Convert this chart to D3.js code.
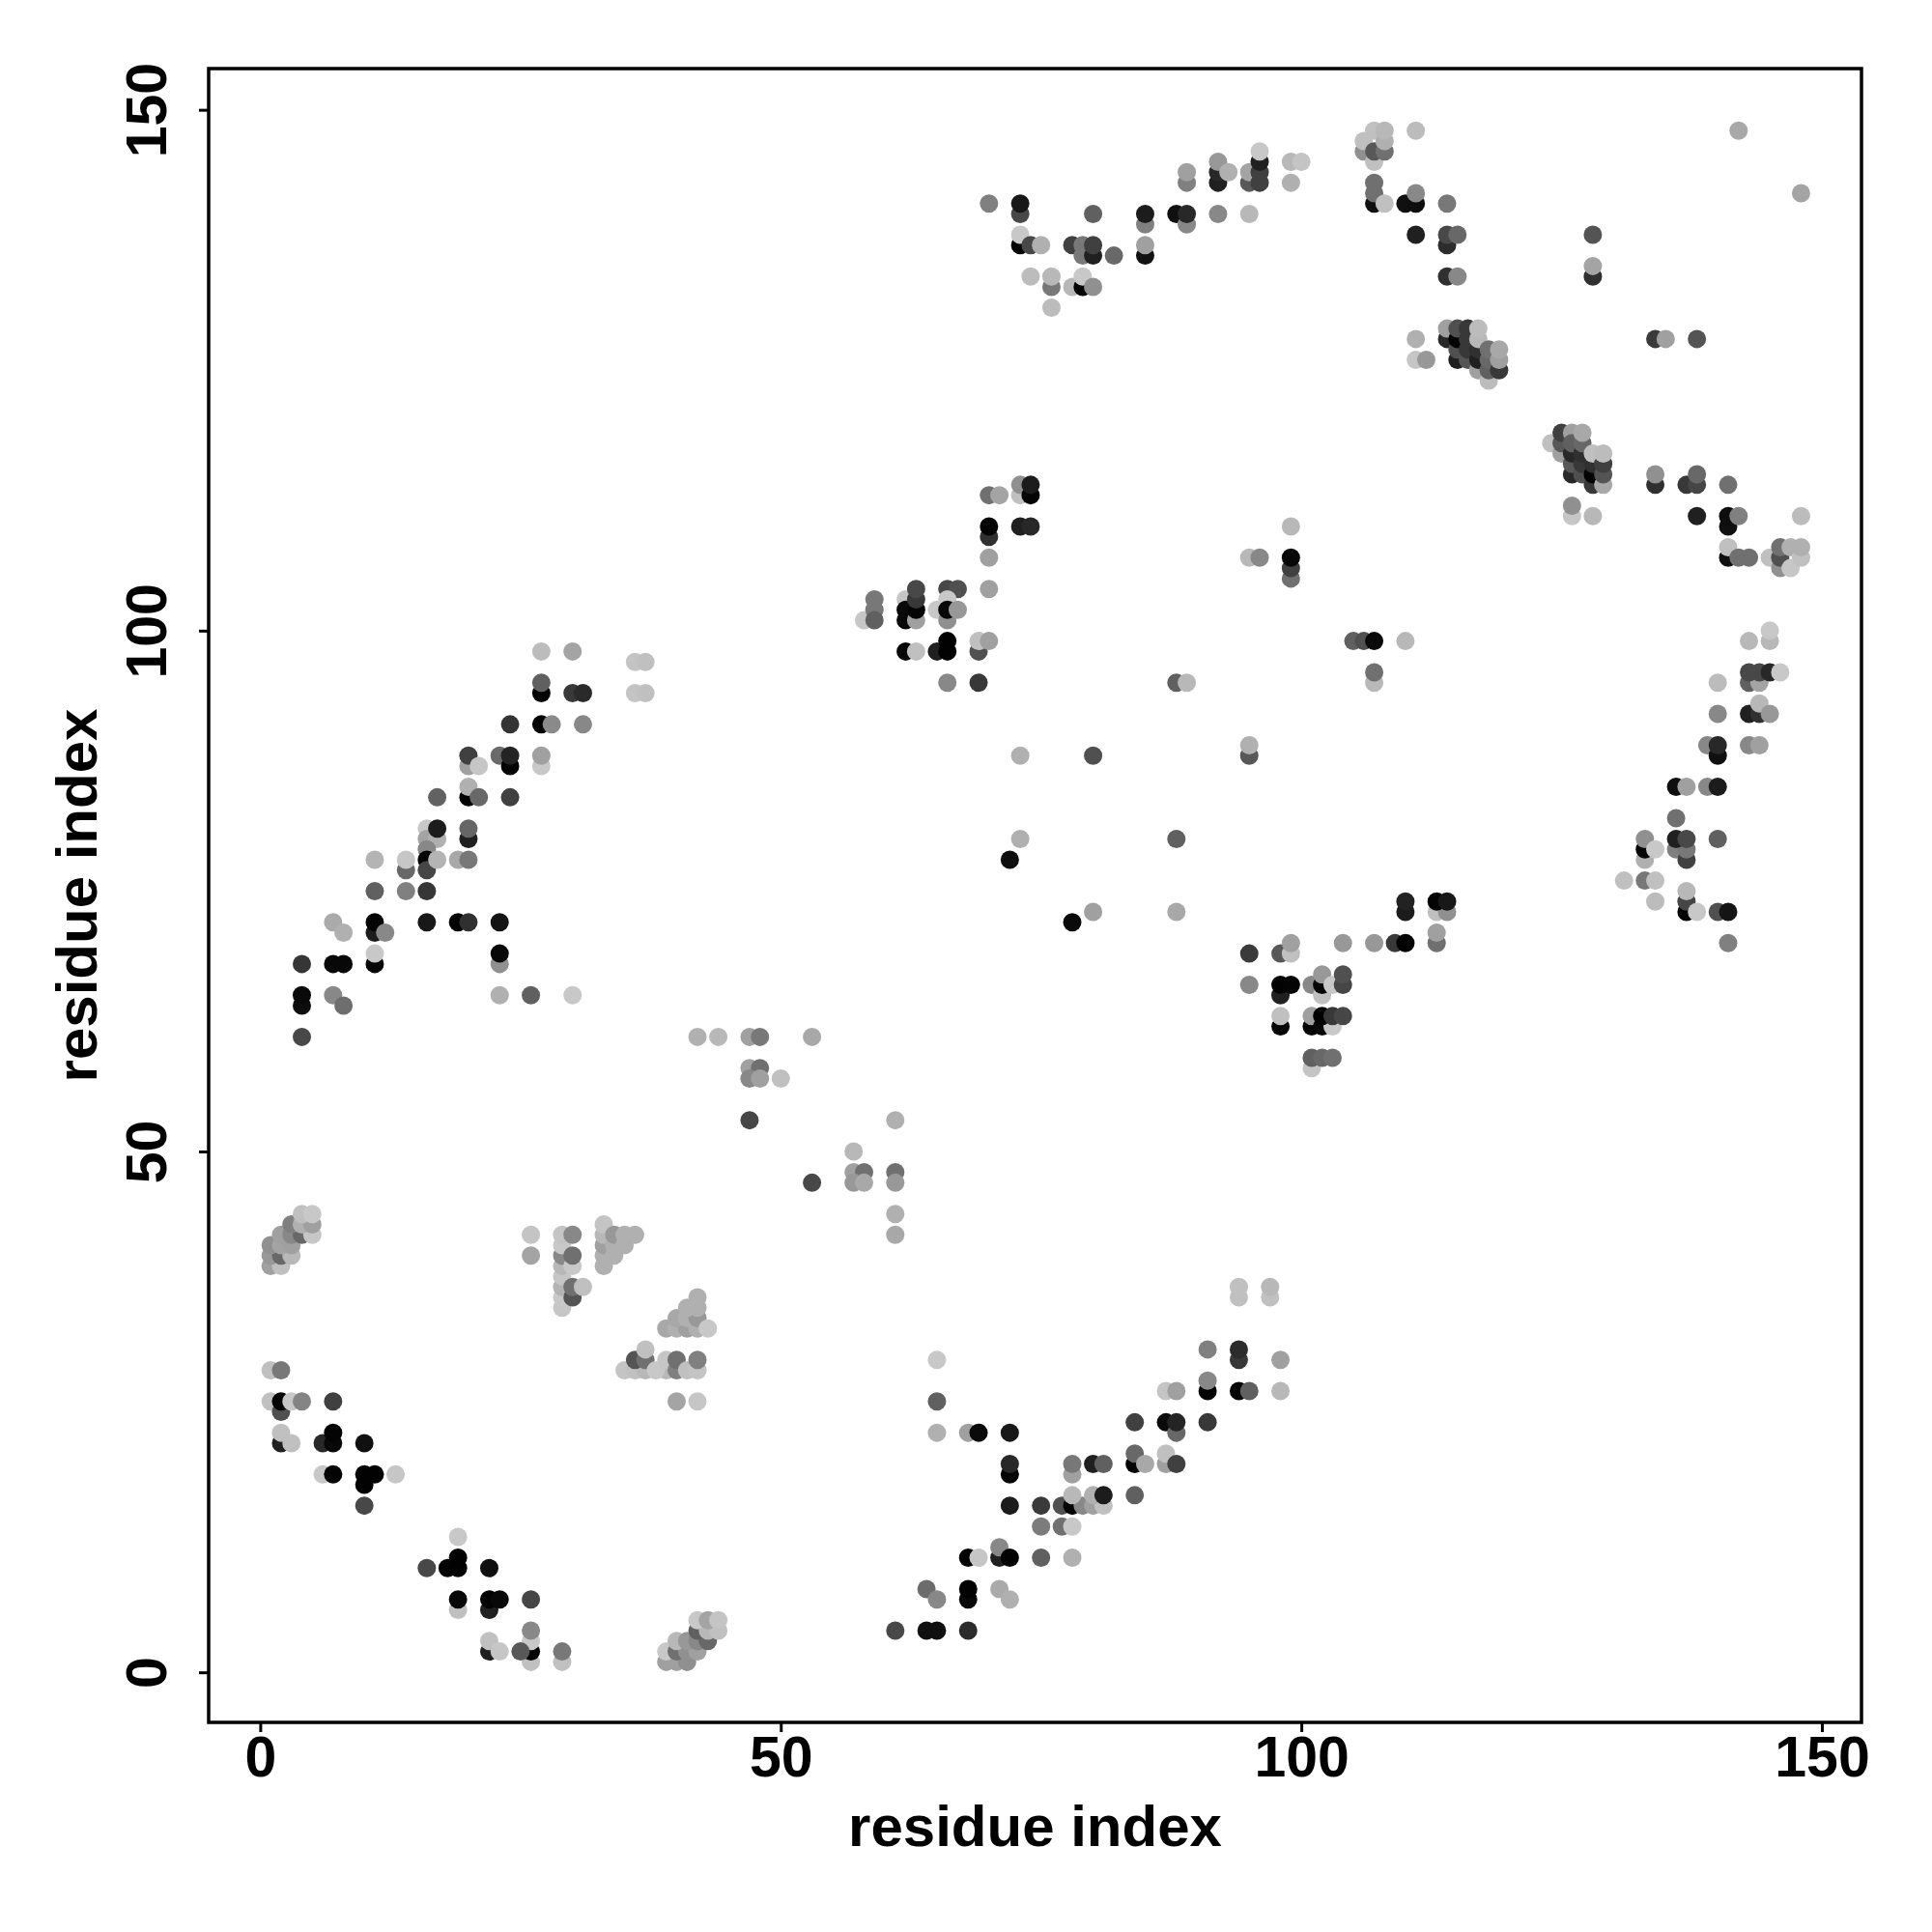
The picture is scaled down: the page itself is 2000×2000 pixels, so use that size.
<!DOCTYPE html>
<html><head><meta charset="utf-8">
<script src="https://cdn.jsdelivr.net/npm/d3@7"></script>
<style>html,body{margin:0;padding:0;background:#fff}svg{display:block}text{font-family:"Liberation Sans",Arial,sans-serif;font-weight:700;fill:#000}</style>
</head><body><svg id="c" width="2000" height="2000"></svg>
<script>
// each contact: [residue i, residue j, contact score 0-100]
const upperLeftArc=[[27,98,6],[30,98,18],[36,97,2],[37,97,4],[27,94,98],[27,95,52],[30,94,72],[31,94,79],[36,94,2],[37,94,4],
[24,91,74],[27,91,98],[28,91,31],[31,91,32],[20,87,20],[20,88,68],[21,87,1],[23,88,47],[24,87,98],[24,88,82],[27,87,0],[27,88,20],
[20,84,99],[20,85,12],[21,84,48],[17,84,51],[24,84,68],[16,81,0],[16,80,18],[17,80,12],[17,81,86],[20,80,84],[20,81,49],
[16,79,32],[16,78,98],[16,77,65],[17,78,10],[14,77,48],[14,78,1],[11,78,10],[19,78,16],[20,78,40],[11,75,52],[14,75,36],[16,75,73],
[16,72,88],[19,72,98],[20,72,76],[23,72,90],[11,71,86],[11,72,98],[12,71,32],[7,72,15],[8,71,12],[23,68,28],[23,69,96],[11,68,96],[11,69,0],
[4,68,73],[7,68,96],[8,68,96],[4,64,93],[4,65,95],[7,65,32],[8,64,45],[23,65,12],[26,65,52],[30,65,0],[4,61,64]];
const lowerLeft=[[1,29,4],[2,29,40],[1,26,4],[2,25,60],[2,26,98],[3,26,0],[4,26,34],[7,26,68],[2,22,84],[2,23,4],[3,22,4],[6,22,80],[7,22,96],[7,23,98],[10,22,92],
[6,19,0],[7,19,98],[10,19,99],[11,19,99],[10,18,99],[13,19,1],[10,16,64],[19,13,0],[19,11,99],[18,10,98],[19,10,99],[16,10,64],[22,10,92],
[19,6,4],[19,7,96],[22,6,84],[22,7,99],[23,7,96],[26,7,65],[26,1,4],[26,2,98],[26,3,0],[26,4,32],[25,2,56],[22,2,84],[22,3,4],[23,2,1],[29,1,4],[29,2,40]];
const clusterA=[[1,39,20],[2,39,4],[1,40,24],[2,40,48],[3,40,8],[1,41,28],[2,41,18],[3,41,20],[2,42,20],[3,42,32],[4,42,48],[5,42,1],[3,43,36],[4,43,12],[5,43,20],[4,44,4],[5,44,0]];
const clusterB=[[26,42,2],[26,40,18],[29,35,1],[29,36,0],[29,37,10],[29,38,1],[29,39,8],[29,40,32],[29,41,0],[29,42,2],[30,36,58],[30,37,44],[30,39,0],[30,40,44],[30,42,32],[31,37,4],
[33,39,12],[33,40,12],[33,41,20],[33,42,8],[33,43,2],[34,40,12],[34,41,12],[34,42,24],[35,41,12],[35,42,12],[36,42,12]];
const clusterC=[[35,29,2],[36,29,4],[37,29,8],[39,29,8],[36,30,58],[37,30,44],[37,31,4],[38,29,0],[39,30,1],[40,29,36],[40,30,44],[41,29,4],[42,29,2],[42,30,36],[40,26,18],[42,26,1],
[39,33,16],[40,33,12],[41,33,20],[42,33,12],[40,34,16],[41,34,12],[42,34,24],[41,35,12],[42,35,12],[42,36,12],[43,33,0]];
const clusterD=[[39,1,20],[40,1,20],[41,1,28],[39,2,0],[40,2,44],[41,2,28],[42,2,20],[40,3,8],[41,3,24],[42,3,32],[43,3,48],[42,4,52],[43,4,8],[44,4,4],[42,5,0],[43,5,18],[44,5,2]];
const middle=[[42,61,12],[44,61,8],[47,61,20],[48,61,40],[53,61,16],[47,58,20],[48,58,44],[47,57,32],[48,57,20],[50,57,4],[47,53,65],[53,47,64],
[57,50,8],[57,48,20],[58,48,44],[57,47,24],[58,47,16],[61,53,12],[61,48,44],[61,47,24],[61,44,12],[61,42,16]];
const lowerArc=[[65,30,0],[65,26,52],[65,23,12],[68,23,20],[69,23,95],[72,23,88],[72,19,98],[72,20,80],[72,16,86],[75,16,71],[75,14,38],[77,16,60],[77,14,44],[78,14,0],
[78,16,99],[79,16,32],[80,16,20],[81,16,4],[78,17,8],[80,17,12],[81,17,86],[78,19,20],[78,20,40],[80,20,84],[81,20,52],[84,17,52],[84,20,99],[84,21,48],[85,20,16],[84,24,68],
[87,24,95],[88,23,48],[88,24,82],[87,20,20],[87,21,4],[88,20,68],[87,27,2],[88,27,20],[91,27,99],[91,28,32],[91,24,72],[91,31,36],[94,30,72],[94,31,78],[94,27,98],[95,27,52],[98,30,20],[98,27,8],
[94,36,4],[94,37,4],[97,36,4],[97,37,8],[61,4,64],[64,4,92],[65,4,92],[68,4,78],[64,8,46],[65,7,32],[68,7,96],[68,8,99],[71,8,15],[72,7,12],
[68,11,98],[69,11,1],[71,11,84],[71,12,32],[72,11,99],[75,11,52],[78,11,12]];
const midRight=[[110,73,86],[110,74,83],[113,73,4],[114,73,28],[113,74,98],[114,74,88],[113,70,44],[113,71,20],[104,70,24],[107,70,24],[109,70,72],[110,70,99],
[95,69,71],[98,69,56],[99,69,4],[99,70,20],[95,66,32],[98,65,84],[98,66,99],[99,66,98],[101,66,32],[102,65,4],[102,66,98],[102,67,24],[103,66,0],[104,66,65],[104,67,60],
[98,62,98],[98,63,4],[101,62,98],[101,63,20],[102,62,96],[103,62,0],[102,63,99],[103,63,72],[104,63,65],[101,58,2],[101,59,52],[102,59,48],[103,59,44]];
const rightArc=[[145,99,8],[145,100,0],[143,99,8],[143,95,52],[144,95,18],[143,96,64],[144,96,64],[145,96,80],[146,96,0],[140,95,6],[140,92,32],[143,92,84],[144,92,76],[144,93,8],[145,92,24],
[139,89,32],[140,88,92],[140,89,80],[143,89,32],[144,89,20],[136,85,93],[137,85,20],[139,85,32],[140,85,86],[136,82,44],[136,79,36],[137,78,68],[137,79,40],[136,80,84],[137,80,64],[140,80,52],
[133,78,12],[133,79,99],[133,80,28],[134,79,0],[131,76,4],[133,76,40],[134,76,4],[134,74,6],[137,73,98],[137,74,65],[137,75,8],[138,73,0],[140,73,60],[141,73,90],[141,70,36]];
const upperMid=[[70,113,44],[71,113,18],[73,113,4],[73,114,28],[74,113,98],[74,114,86],[70,109,76],[70,110,98],[73,110,84],[74,110,80],[70,107,20],[70,104,20],
[66,104,64],[67,104,60],[62,103,1],[62,102,95],[62,101,96],[63,101,20],[63,102,98],[63,103,72],[63,104,64],[58,101,1],[59,102,40],[59,103,40],[59,101,52],
[65,102,0],[66,101,28],[66,103,0],[66,102,96],[67,102,24],[62,98,98],[63,98,4],[65,98,84],[66,98,99],[66,99,99],[69,98,60],[69,99,4],[70,99,20],[66,95,32],[69,95,72]];
const topArc=[[70,141,36],[73,140,64],[73,141,88],[73,137,98],[73,138,0],[74,137,64],[75,137,12],[74,134,6],[76,133,40],[76,134,8],[76,131,6],[78,133,8],[79,133,99],[79,134,0],[80,133,28],
[78,137,68],[79,136,40],[79,137,40],[80,136,84],[80,137,68],[82,136,48],[80,140,52],[85,139,36],[85,140,86],[85,136,91],[85,137,20],[88,140,92],[89,139,32],[89,140,80],[92,140,32],[95,140,8],
[89,143,36],[89,144,20],[92,143,84],[92,144,80],[92,145,24],[93,144,12],[95,143,56],[95,144,18],[96,143,68],[96,144,68],[96,145,84],[96,146,0],[99,145,8],[100,145,2],[99,143,12]];
const topRight=[[106,146,28],[106,147,4],[107,145,4],[107,148,4],[107,146,56],[108,146,44],[108,147,12],[108,148,8],[107,141,92],[107,142,44],[107,143,44],[108,141,4],[110,141,92],[111,141,93],[111,142,32],[111,148,6],
[111,138,84],[114,141,40],[114,137,78],[114,138,64],[115,138,48],[114,134,76],[115,134,32],[111,128,12],[111,126,1],[112,126,24],[128,138,58],[128,134,76],[128,135,18],[134,128,71],[135,128,20],[138,128,58],[142,148,16],[148,142,18]];
const clusterE=[[114,128,80],[114,129,20],[115,126,84],[115,127,60],[115,128,98],[115,129,60],[116,126,58],[116,127,72],[116,128,72],[116,129,72],[117,125,20],[117,126,84],[117,127,76],[117,128,8],[117,129,6],
[118,124,6],[118,125,52],[118,126,48],[118,127,44],[119,125,72],[119,126,20],[119,127,16]];
const clusterF=[[124,118,4],[125,117,20],[125,118,56],[125,119,68],[126,119,20],[126,115,80],[126,116,56],[126,117,80],[126,118,52],[127,115,60],[127,116,72],[127,117,76],[127,118,48],[127,119,16],
[128,114,72],[128,115,98],[128,116,76],[128,117,4],[129,114,16],[129,115,58],[129,116,68],[129,117,6],[126,111,1],[126,112,28],[128,111,8]];
const rightUpper=[[134,114,76],[134,115,28],[137,114,72],[138,114,65],[138,115,48],[141,114,44],[138,111,84],[141,110,92],[141,111,93],[142,111,36],[148,111,6],[141,107,92],[141,108,4],[142,107,44],[143,107,44],[145,107,4],
[146,106,28],[146,107,60],[146,108,44],[147,106,1],[147,108,12],[148,107,4],[148,108,12]];
const scattered=[[72,78,93],[73,80,12],[73,88,12],[80,88,60],[78,72,95],[80,73,20],[88,80,52],[88,73,16],[88,95,52],[89,95,8],[95,88,56],[95,89,12],
[95,107,8],[96,107,32],[99,110,8],[99,105,44],[99,106,68],[99,107,96],[105,99,52],[106,99,60],[107,99,95],[110,99,8],[107,95,8],[107,96,44]];
const tickValues=[0,50,100,150];
const axisLabel="residue index";

const contacts=[].concat(upperLeftArc,lowerLeft,clusterA,clusterB,clusterC,clusterD,middle,lowerArc,midRight,rightArc,upperMid,topArc,topRight,clusterE,clusterF,rightUpper,scattered);
const box={l:216,r:1927,t:71,b:1783};
const dom=[-4.88,153.88];
const x=d3.scaleLinear().domain(dom).range([box.l+0.8,box.r+0.8]);
const y=d3.scaleLinear().domain(dom).range([box.b+0.8,box.t+0.8]);
const shade=d3.scaleLinear().domain([0,100]).range([200,0]);
const svg=d3.select("#c");
svg.append("g").selectAll("circle").data(contacts).join("circle")
 .attr("cx",d=>x(d[0])).attr("cy",d=>y(d[1])).attr("r",9.5)
 .attr("fill",d=>{const g=Math.round(shade(d[2]));return `rgb(${g},${g},${g})`;});
svg.append("rect").attr("x",box.l).attr("y",box.t).attr("width",box.r-box.l).attr("height",box.b-box.t)
 .attr("fill","none").attr("stroke","#000").attr("stroke-width",3.5);
const fs=59;
const gx=svg.append("g").attr("transform",`translate(0,${box.b})`).call(d3.axisBottom(x).tickValues(tickValues).tickSize(10).tickSizeOuter(0).tickPadding(16));
const gy=svg.append("g").attr("transform",`translate(${box.l},0)`).call(d3.axisLeft(y).tickValues(tickValues).tickSize(10).tickSizeOuter(0));
[gx,gy].forEach(g=>{g.select("path.domain").remove();g.selectAll("line").attr("stroke","#000").attr("stroke-width",3);g.selectAll("text").style("font-size",fs+"px").style("font-family",'"Liberation Sans"').style("font-weight",700).attr("fill","#000");});
gx.selectAll("text").attr("y",56).attr("dy",0);
gy.selectAll("text").attr("x",0).attr("dy",0).attr("text-anchor","middle").attr("transform","translate(-44,0) rotate(-90)");
svg.append("text").attr("x",(box.l+box.r)/2).attr("y",1911).attr("text-anchor","middle").style("font-size","60px").text(axisLabel);
svg.append("text").attr("transform",`translate(99.5,${(box.t+box.b)/2}) rotate(-90)`).attr("text-anchor","middle").style("font-size","60px").text(axisLabel);
</script></body></html>
